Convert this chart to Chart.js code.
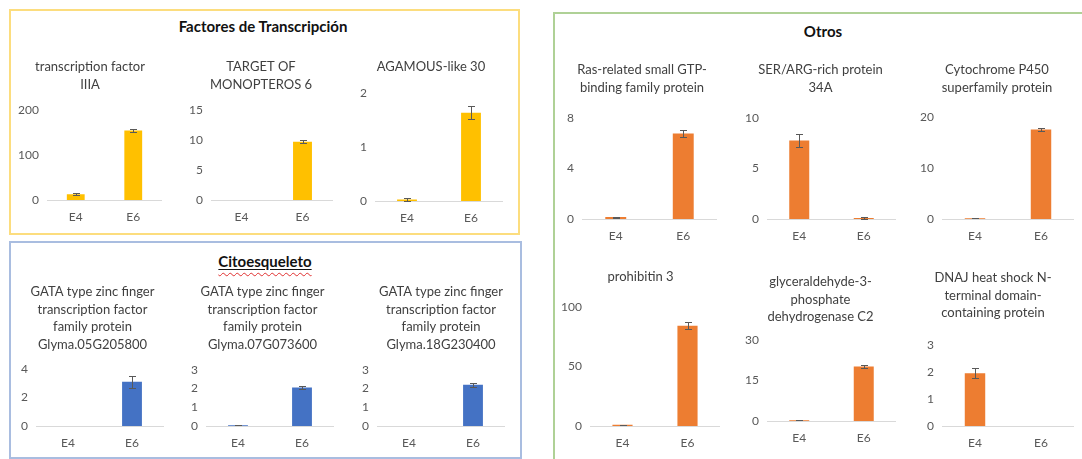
<!DOCTYPE html>
<html>
<head>
<meta charset="utf-8">
<script src="https://cdn.jsdelivr.net/npm/chart.js@4.4.1/dist/chart.umd.min.js"></script>
<style>
body { margin: 0; background: #fff; width: 1082px; height: 459px; overflow: hidden; position: relative; font-family: Lato, sans-serif; }
.box { position: absolute; box-sizing: border-box; border: 2px solid; }
.head { position: absolute; transform: translate(-50%, -50%); font-weight: bold; font-size: 15px; color: #111; white-space: nowrap; }
.wavy { text-decoration: underline wavy #e03030; text-decoration-thickness: 1px; text-underline-offset: 5px; }
.under { text-decoration: underline; text-decoration-color: #111; text-underline-offset: 2px; }
canvas { position: absolute; }
</style>
</head>
<body>
<div class="box" style="left:9px;top:9px;width:511px;height:226px;border-color:#FCDD7E"></div>
<div class="box" style="left:9px;top:241px;width:513px;height:218px;border-color:#A9BDE0"></div>
<div class="box" style="left:553px;top:12px;width:600px;height:500px;border-color:#AFD196"></div>

<div class="head" style="left:263px;top:26px">Factores de Transcripción</div>
<div class="head" style="left:265px;top:261px"><span class="wavy"><span class="under">Citoesqueleto</span></span></div>
<div class="head" style="left:823px;top:31px">Otros</div>

<canvas id="tf3a"></canvas>
<canvas id="mp6"></canvas>
<canvas id="agl30"></canvas>
<canvas id="gata05"></canvas>
<canvas id="gata07"></canvas>
<canvas id="gata18"></canvas>
<canvas id="ras"></canvas>
<canvas id="ser"></canvas>
<canvas id="cyp"></canvas>
<canvas id="phb3"></canvas>
<canvas id="gapc2"></canvas>
<canvas id="dnaj"></canvas>

<script>
const categories = ['E4', 'E6'];

// Factores de Transcripción
const tf3aTitle = ['transcription factor', 'IIIA'];
const tf3aValues = [13, 154];
const tf3aErrors = [1.5, 3];
const tf3aTicks = [200, 100]; // max, paso

const mp6Title = ['TARGET OF', 'MONOPTEROS 6'];
const mp6Values = [0, 9.7];
const mp6Errors = [0, 0.25];
const mp6Ticks = [15, 5];

const agl30Title = ['AGAMOUS-like 30'];
const agl30Values = [0.03, 1.63];
const agl30Errors = [0.03, 0.12];
const agl30Ticks = [2, 1];

// Citoesqueleto
const gata05Title = ['GATA type zinc finger', 'transcription factor', 'family protein', 'Glyma.05G205800'];
const gata05Values = [0, 3.1];
const gata05Errors = [0, 0.42];
const gata05Ticks = [4, 2];

const gata07Title = ['GATA type zinc finger', 'transcription factor', 'family protein', 'Glyma.07G073600'];
const gata07Values = [0.04, 2.05];
const gata07Errors = [0.01, 0.1];
const gata07Ticks = [3, 1];

const gata18Title = ['GATA type zinc finger', 'transcription factor', 'family protein', 'Glyma.18G230400'];
const gata18Values = [0, 2.2];
const gata18Errors = [0, 0.12];
const gata18Ticks = [3, 1];

// Otros
const rasTitle = ['Ras-related small GTP-', 'binding family protein'];
const rasValues = [0.15, 6.75];
const rasErrors = [0.04, 0.28];
const rasTicks = [8, 4];

const serTitle = ['SER/ARG-rich protein', '34A'];
const serValues = [7.75, 0.1];
const serErrors = [0.62, 0.12];
const serTicks = [10, 5];

const cypTitle = ['Cytochrome P450', 'superfamily protein'];
const cypValues = [0.15, 17.5];
const cypErrors = [0.05, 0.3];
const cypTicks = [20, 10];

const phb3Title = ['prohibitin 3'];
const phb3Values = [1, 84];
const phb3Errors = [0.2, 3];
const phb3Ticks = [100, 50];

const gapc2Title = ['glyceraldehyde-3-', 'phosphate', 'dehydrogenase C2'];
const gapc2Values = [0.3, 20.1];
const gapc2Errors = [0.05, 0.4];
const gapc2Ticks = [30, 15];

const dnajTitle = ['DNAJ heat shock N-', 'terminal domain-', 'containing protein'];
const dnajValues = [1.95, 0];
const dnajErrors = [0.18, 0];
const dnajTicks = [3, 1];

const AMARILLO = '#FFC000';
const AZUL = '#4472C4';
const NARANJA = '#ED7D31';
const GRIS = '#595959';

Chart.defaults.font.family = 'Lato, sans-serif';

// barras de error
const errorBars = {
    id: 'errorBars',
    afterDatasetsDraw(chart) {
        const ctx = chart.ctx;
        const y = chart.scales.y;
        chart.data.datasets.forEach((ds, i) => {
            chart.getDatasetMeta(i).data.forEach((bar, j) => {
                const e = ds.errors[j];
                if (!e) return;
                const v = ds.data[j];
                const top = Math.round(y.getPixelForValue(v + e)) + 0.5;
                const bottom = Math.round(y.getPixelForValue(Math.max(v - e, 0))) + 0.5;
                const x = Math.round(bar.x) + 0.5;
                ctx.save();
                ctx.strokeStyle = GRIS;
                ctx.lineWidth = 1;
                ctx.beginPath();
                ctx.moveTo(x, top); ctx.lineTo(x, bottom);
                ctx.moveTo(x - 3.5, top); ctx.lineTo(x + 3.5, top);
                ctx.moveTo(x - 3.5, bottom); ctx.lineTo(x + 3.5, bottom);
                ctx.stroke();
                ctx.restore();
            });
        });
    }
};

// posiciones: eje izq, eje der, tope, base, y de la primera linea del titulo, ancho eje y
const LH = 13 * 1.35;
function grafica(id, titulo, valores, errores, ticks, color, pos) {
    const canvas = document.getElementById(id);
    const left = pos.axL - pos.yw;
    const top = pos.line1Y - LH / 2;
    const width = pos.axR - left;
    const height = pos.bot - top + 30;
    canvas.width = width;
    canvas.height = height;
    canvas.style.left = left + 'px';
    canvas.style.top = top + 'px';
    const padB = pos.top - top - titulo.length * LH;

    new Chart(canvas, {
        type: 'bar',
        data: {
            labels: categories,
            datasets: [{
                data: valores,
                errors: errores,
                backgroundColor: color,
                barPercentage: 0.31,
                categoryPercentage: 1
            }]
        },
        options: {
            responsive: false,
            animation: false,
            layout: { padding: 0 },
            scales: {
                x: {
                    grid: { display: false, drawTicks: false },
                    border: { display: true, color: '#D9D9D9', width: 1 },
                    ticks: { color: GRIS, font: { size: 12 }, padding: 10 },
                    afterFit: (s) => { s.height = 30; }
                },
                y: {
                    min: 0,
                    max: ticks[0],
                    grid: { display: false, drawTicks: false },
                    border: { display: false },
                    ticks: { stepSize: ticks[1], color: GRIS, font: { size: 12 }, padding: 8 },
                    afterFit: (s) => { s.width = pos.yw; }
                }
            },
            plugins: {
                legend: { display: false },
                tooltip: { enabled: false },
                title: {
                    display: true,
                    text: titulo,
                    color: '#404040',
                    fullSize: pos.full !== false,
                    font: { size: 13, weight: 'normal', lineHeight: 1.35 },
                    padding: { top: 0, bottom: padB }
                }
            }
        },
        plugins: [errorBars]
    });
}

grafica('tf3a', tf3aTitle, tf3aValues, tf3aErrors, tf3aTicks, AMARILLO, { axL: 47, axR: 162, top: 110, bot: 201, line1Y: 67, yw: 29 });
grafica('mp6', mp6Title, mp6Values, mp6Errors, mp6Ticks, AMARILLO, { axL: 211, axR: 333, top: 110, bot: 201, line1Y: 67, yw: 22 });
grafica('agl30', agl30Title, agl30Values, agl30Errors, agl30Ticks, AMARILLO, { axL: 375, axR: 503, top: 93, bot: 202, line1Y: 67, yw: 16 });

grafica('gata05', gata05Title, gata05Values, gata05Errors, gata05Ticks, AZUL, { axL: 36, axR: 164, top: 369, bot: 427, line1Y: 292, yw: 15 });
grafica('gata07', gata07Title, gata07Values, gata07Errors, gata07Ticks, AZUL, { axL: 206, axR: 334, top: 370, bot: 427, line1Y: 292, yw: 15 });
grafica('gata18', gata18Title, gata18Values, gata18Errors, gata18Ticks, AZUL, { axL: 377, axR: 505, top: 370, bot: 427, line1Y: 292, yw: 20, full: false });

grafica('ras', rasTitle, rasValues, rasErrors, rasTicks, NARANJA, { axL: 582, axR: 717, top: 118, bot: 220, line1Y: 70, yw: 15 });
grafica('ser', serTitle, serValues, serErrors, serTicks, NARANJA, { axL: 767, axR: 896, top: 118, bot: 220, line1Y: 70, yw: 22 });
grafica('cyp', cypTitle, cypValues, cypErrors, cypTicks, NARANJA, { axL: 942, axR: 1074, top: 117, bot: 220, line1Y: 70, yw: 22 });

grafica('phb3', phb3Title, phb3Values, phb3Errors, phb3Ticks, NARANJA, { axL: 590, axR: 720, top: 307, bot: 427, line1Y: 277, yw: 29 });
grafica('gapc2', gapc2Title, gapc2Values, gapc2Errors, gapc2Ticks, NARANJA, { axL: 767, axR: 896, top: 340, bot: 422, line1Y: 282, yw: 22 });
grafica('dnaj', dnajTitle, dnajValues, dnajErrors, dnajTicks, NARANJA, { axL: 942, axR: 1074, top: 345, bot: 427, line1Y: 278, yw: 30 });
</script>
</body>
</html>
